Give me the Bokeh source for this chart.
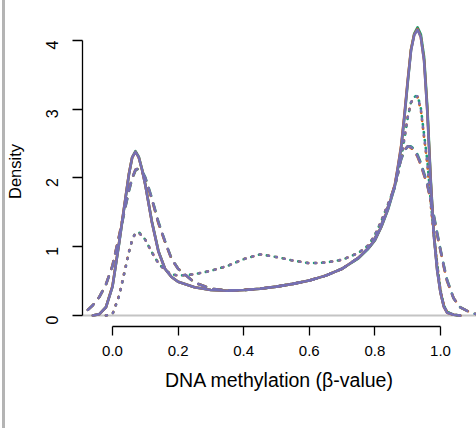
import math
from bokeh.plotting import figure
from bokeh.models import Span, Range1d, FixedTicker, NumeralTickFormatter
from bokeh.embed import file_html
from bokeh.resources import INLINE

nan = float("nan")

# beta-value grid shared by all density curves
beta = [-0.12, -0.10, -0.08, -0.06, -0.04, -0.02, 0.00, 0.02, 0.04, 0.05,
        0.06, 0.07, 0.08, 0.09, 0.10, 0.12, 0.14, 0.16, 0.18, 0.20,
        0.25, 0.30, 0.35, 0.40, 0.45, 0.50, 0.55, 0.60, 0.65, 0.70,
        0.75, 0.78, 0.80, 0.82, 0.84, 0.86, 0.87, 0.88, 0.89, 0.90,
        0.91, 0.92, 0.93, 0.94, 0.95, 0.96, 0.97, 0.98, 0.99, 1.00,
        1.01, 1.02, 1.04, 1.06, 1.08, 1.10, 1.12]

# solid-line samples
solid_green = [nan, nan, nan, 0.00, 0.02, 0.12, 0.42, 1.04, 1.71, 2.05,
               2.30, 2.39, 2.31, 2.13, 1.91, 1.37, 0.94, 0.68, 0.56, 0.49,
               0.41, 0.37, 0.36, 0.37, 0.39, 0.42, 0.46, 0.51, 0.58, 0.68,
               0.83, 0.97, 1.09, 1.29, 1.54, 1.86, 2.13, 2.43, 2.88, 3.38,
               3.86, 4.10, 4.19, 4.09, 3.76, 3.02, 2.00, 1.18, 0.67, 0.34,
               0.14, 0.05, 0.01, 0.00, nan, nan, nan]
solid_orange = [nan, nan, nan, 0.00, 0.02, 0.12, 0.43, 1.06, 1.73, 2.06,
                2.30, 2.38, 2.30, 2.12, 1.90, 1.36, 0.93, 0.68, 0.56, 0.49,
                0.41, 0.37, 0.36, 0.37, 0.39, 0.42, 0.46, 0.51, 0.58, 0.68,
                0.84, 0.98, 1.10, 1.30, 1.56, 1.88, 2.16, 2.47, 2.92, 3.42,
                3.87, 4.09, 4.17, 4.05, 3.71, 2.96, 1.96, 1.16, 0.66, 0.33,
                0.13, 0.04, 0.01, 0.00, nan, nan, nan]
solid_purple = [nan, nan, nan, 0.00, 0.02, 0.12, 0.42, 1.05, 1.72, 2.05,
                2.30, 2.38, 2.30, 2.12, 1.90, 1.36, 0.93, 0.68, 0.56, 0.49,
                0.41, 0.37, 0.36, 0.37, 0.39, 0.42, 0.46, 0.51, 0.58, 0.68,
                0.84, 0.98, 1.10, 1.30, 1.55, 1.87, 2.15, 2.45, 2.90, 3.40,
                3.85, 4.08, 4.16, 4.05, 3.70, 2.95, 1.95, 1.15, 0.65, 0.33,
                0.13, 0.04, 0.01, 0.00, nan, nan, nan]

# dashed-line samples
dashed_green = [0.00, 0.02, 0.06, 0.15, 0.27, 0.45, 0.72, 1.14, 1.59, 1.81,
                1.99, 2.11, 2.14, 2.10, 2.01, 1.71, 1.36, 1.08, 0.83, 0.68,
                0.48, 0.39, 0.365, 0.37, 0.39, 0.42, 0.46, 0.51, 0.58, 0.68,
                0.84, 0.98, 1.12, 1.32, 1.58, 1.88, 2.08, 2.27, 2.39, 2.46,
                2.46, 2.42, 2.34, 2.22, 2.07, 1.91, 1.70, 1.45, 1.20, 0.96,
                0.73, 0.52, 0.25, 0.12, 0.07, 0.03, 0.01]
dashed_orange = [0.00, 0.02, 0.06, 0.15, 0.27, 0.45, 0.73, 1.16, 1.61, 1.83,
                 2.00, 2.12, 2.14, 2.09, 1.99, 1.69, 1.34, 1.07, 0.82, 0.68,
                 0.48, 0.39, 0.365, 0.37, 0.39, 0.42, 0.46, 0.51, 0.58, 0.68,
                 0.84, 0.98, 1.12, 1.32, 1.58, 1.89, 2.09, 2.29, 2.41, 2.46,
                 2.44, 2.39, 2.31, 2.19, 2.04, 1.89, 1.67, 1.42, 1.17, 0.94,
                 0.71, 0.50, 0.25, 0.12, 0.07, 0.03, 0.01]
dashed_purple = [0.00, 0.02, 0.06, 0.15, 0.27, 0.45, 0.72, 1.15, 1.60, 1.82,
                 2.00, 2.12, 2.14, 2.10, 2.00, 1.70, 1.35, 1.08, 0.82, 0.68,
                 0.48, 0.39, 0.365, 0.37, 0.39, 0.42, 0.46, 0.51, 0.58, 0.68,
                 0.84, 0.98, 1.12, 1.32, 1.58, 1.88, 2.08, 2.28, 2.40, 2.46,
                 2.45, 2.40, 2.32, 2.20, 2.05, 1.90, 1.68, 1.43, 1.18, 0.95,
                 0.72, 0.51, 0.25, 0.12, 0.07, 0.03, 0.01]

# dotted-line samples
dotted_green = [nan, nan, nan, nan, nan, 0.00, 0.02, 0.28, 0.70, 0.92,
                1.10, 1.21, 1.21, 1.17, 1.10, 0.92, 0.76, 0.66, 0.60, 0.58,
                0.60, 0.65, 0.72, 0.82, 0.89, 0.85, 0.80, 0.76, 0.77, 0.81,
                0.91, 1.02, 1.17, 1.38, 1.62, 1.86, 2.05, 2.29, 2.57, 2.87,
                3.10, 3.18, 3.20, 3.02, 2.63, 2.25, 1.68, 1.17, 0.75, 0.37,
                0.15, 0.05, 0.01, 0.00, nan, nan, nan]
dotted_orange = [nan, nan, nan, nan, nan, 0.00, 0.02, 0.29, 0.71, 0.93,
                 1.10, 1.20, 1.20, 1.16, 1.10, 0.92, 0.76, 0.66, 0.60, 0.58,
                 0.60, 0.65, 0.72, 0.82, 0.89, 0.85, 0.80, 0.76, 0.77, 0.81,
                 0.91, 1.02, 1.17, 1.38, 1.62, 1.87, 2.06, 2.31, 2.59, 2.89,
                 3.10, 3.16, 3.18, 2.99, 2.59, 2.20, 1.63, 1.14, 0.73, 0.36,
                 0.15, 0.05, 0.01, 0.00, nan, nan, nan]
dotted_purple = [nan, nan, nan, nan, nan, 0.00, 0.02, 0.28, 0.70, 0.92,
                 1.10, 1.20, 1.20, 1.16, 1.10, 0.92, 0.76, 0.66, 0.60, 0.58,
                 0.60, 0.65, 0.72, 0.82, 0.89, 0.85, 0.80, 0.76, 0.77, 0.81,
                 0.91, 1.02, 1.17, 1.38, 1.62, 1.86, 2.05, 2.30, 2.58, 2.88,
                 3.10, 3.17, 3.19, 3.00, 2.60, 2.22, 1.65, 1.15, 0.74, 0.36,
                 0.15, 0.05, 0.01, 0.00, nan, nan, nan]

x_ticks = [0.0, 0.2, 0.4, 0.6, 0.8, 1.0]
y_ticks = [0, 1, 2, 3, 4]

GREEN, ORANGE, PURPLE = "#1B9E77", "#D95F02", "#7570B3"
FONT = "Liberation Sans"

p = figure(width=476, height=428,
           x_range=Range1d(-0.09146, 1.10976), y_range=Range1d(-0.16, 4.349),
           output_backend="svg", toolbar_location=None,
           min_border_left=82, min_border_right=0,
           min_border_top=16, min_border_bottom=102)
p.grid.visible = False
p.outline_line_color = None
p.background_fill_color = "white"
# transparent border so the page-side panel edge shows at the far left
p.border_fill_alpha = 0
p.styles = {"background": "linear-gradient(to right, #ffffff 0px, #ffffff 2px, "
                          "#b4b4b4 2px, #b4b4b4 5px, #ffffff 5px, #ffffff 100%)"}

# zero-density reference line
p.add_layout(Span(location=0, dimension="width", line_color="#c4c4c4",
                  line_width=2, level="underlay"))

styles = {"solid": dict(line_dash="solid"),
          "dashed": dict(line_dash="8 8"),
          "dotted": dict(line_dash="1 7")}
series = [
    (solid_green, GREEN, "solid"), (dashed_green, GREEN, "dashed"), (dotted_green, GREEN, "dotted"),
    (solid_orange, ORANGE, "solid"), (dashed_orange, ORANGE, "dashed"), (dotted_orange, ORANGE, "dotted"),
    (solid_purple, PURPLE, "solid"), (dashed_purple, PURPLE, "dashed"), (dotted_purple, PURPLE, "dotted"),
]
for ys, col, sty in series:
    p.line(beta, ys, line_color=col, line_width=2.6, line_cap="round",
           line_join="round", **styles[sty])

# x axis: ticks only across 0..1, outward ticks
xa = p.xaxis[0]
xa.ticker = FixedTicker(ticks=x_ticks, minor_ticks=[])
xa.bounds = (0, 1)
xa.formatter = NumeralTickFormatter(format="0.0")
xa.axis_label = "DNA methylation (β-value)"

ya = p.yaxis[0]
ya.ticker = FixedTicker(ticks=y_ticks, minor_ticks=[])
ya.bounds = (0, 4)
ya.axis_label = "Density"
ya.major_label_orientation = math.pi / 2

for ax in (xa, ya):
    ax.axis_line_color = "black"
    ax.axis_line_width = 1.3
    ax.major_tick_line_color = "black"
    ax.major_tick_line_width = 1.3
    ax.major_tick_in = 0
    ax.minor_tick_line_color = None
    ax.major_label_text_font = FONT
    ax.major_label_text_color = "black"
    ax.axis_label_text_font = FONT
    ax.axis_label_text_font_style = "normal"
    ax.axis_label_text_color = "black"

xa.major_label_text_font_size = "15px"
ya.major_label_text_font_size = "16px"
xa.axis_label_text_font_size = "19.5px"
ya.axis_label_text_font_size = "16.5px"
xa.major_tick_out = 9
xa.major_label_standoff = 10
xa.axis_label_standoff = 10
ya.major_tick_out = 10
ya.major_label_standoff = 20
ya.axis_label_standoff = 14

open("out.html", "w").write(file_html(p, INLINE))
